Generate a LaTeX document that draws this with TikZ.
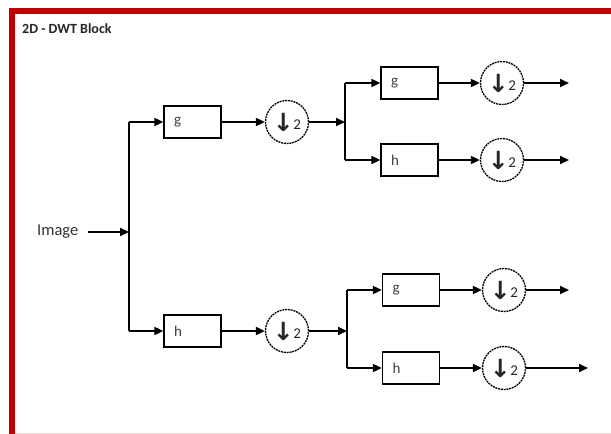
\documentclass[tikz,border=0pt]{standalone}
\usepackage{fontspec}
\setmainfont{Carlito}
\newfontfamily\symfont{DejaVu Sans}
\usetikzlibrary{arrows.meta}
\definecolor{framered}{HTML}{C00000}
\tikzset{
  x=1pt, y=-1pt,
  wire/.style={line width=1.9pt, -{Triangle[length=9pt,width=8pt]}},
  line/.style={line width=1.9pt},
  filterbox/.style={draw, line width=1.3pt, minimum height=32pt, minimum width=57pt, inner sep=0pt, font=\fontsize{15}{15}\selectfont, text=black!75},
  downsamp/.style={draw, circle, dash pattern=on 2pt off 0.8pt, line width=1.3pt, minimum size=43pt, inner sep=0pt, font=\fontsize{15}{15}\selectfont, text=black!85},
}
\newcommand{\dsl}{\raisebox{-1.5pt}{\symfont\fontsize{25}{25}\selectfont\bfseries ↓}\hspace{-0.5pt}2}
\newcommand{\flab}[1]{\makebox[37pt][l]{\raisebox{-1pt}{#1}}}
\begin{document}
\begin{tikzpicture}
\useasboundingbox (0,0) rectangle (611,434);
\fill[white] (0,0) rectangle (611,434);
% frame
\fill[framered] (9,8) rectangle (611,14);
\fill[framered] (9,8) rectangle (15,434);
\draw[framered!15, line width=0.8pt] (15,433.5) -- (611,433.5);
% title
\node[anchor=west, font=\fontsize{14}{14}\selectfont\bfseries, text=black!85, inner sep=0pt] (title) at (22,29) {2D - DWT Block};
% input
\node[anchor=west, font=\fontsize{16.5}{16.5}\selectfont, text=black!80, inner sep=0pt] (img) at (37,232) {Image};
\coordinate (t1) at (129,232);
\coordinate (t1u) at (129,122);
\coordinate (t1d) at (129,331);
% first stage
\node[filterbox] (g1) at (192.5,122) {\flab{g}};
\node[filterbox] (h1) at (192.5,331) {\flab{h}};
\node[downsamp] (c1) at (287,122) {\dsl};
\node[downsamp] (c2) at (287,331) {\dsl};
\coordinate (j1) at (345,122);
\coordinate (j1u) at (345,83);
\coordinate (j1d) at (345,160);
\coordinate (j2) at (347,331);
\coordinate (j2u) at (347,290);
\coordinate (j2d) at (347,368);
% second stage
\node[filterbox] (g2) at (409.5,83) {\flab{g}};
\node[filterbox] (h2) at (409.5,160) {\flab{h}};
\node[filterbox] (g3) at (411,290) {\flab{g}};
\node[filterbox] (h3) at (411,368) {\flab{h}};
\node[downsamp] (c3) at (502,83) {\dsl};
\node[downsamp] (c4) at (502,160) {\dsl};
\node[downsamp] (c5) at (504,290) {\dsl};
\node[downsamp] (c6) at (504,368) {\dsl};
\coordinate (o3) at (569,83);
\coordinate (o4) at (569,160);
\coordinate (o5) at (569,290);
\coordinate (o6) at (588,368);
% connectors
\draw[wire] ([xshift=10pt]img.east) -- (t1);
\draw[line] (t1u) -- (t1d);
\draw[wire] (t1u) -- (g1.west);
\draw[wire] (t1d) -- (h1.west);
\draw[wire] (g1.east) -- (c1.west);
\draw[wire] (h1.east) -- (c2.west);
\draw[wire] (c1.east) -- (j1);
\draw[wire] (c2.east) -- (j2);
\draw[line] (j1u) -- (j1d);
\draw[line] (j2u) -- (j2d);
\draw[wire] (j1u) -- (g2.west);
\draw[wire] (j1d) -- (h2.west);
\draw[wire] (j2u) -- (g3.west);
\draw[wire] (j2d) -- (h3.west);
\draw[wire] (g2.east) -- (c3.west);
\draw[wire] (h2.east) -- (c4.west);
\draw[wire] (g3.east) -- (c5.west);
\draw[wire] (h3.east) -- (c6.west);
\draw[wire] (c3.east) -- (o3);
\draw[wire] (c4.east) -- (o4);
\draw[wire] (c5.east) -- (o5);
\draw[wire] (c6.east) -- (o6);
\end{tikzpicture}
\end{document}
